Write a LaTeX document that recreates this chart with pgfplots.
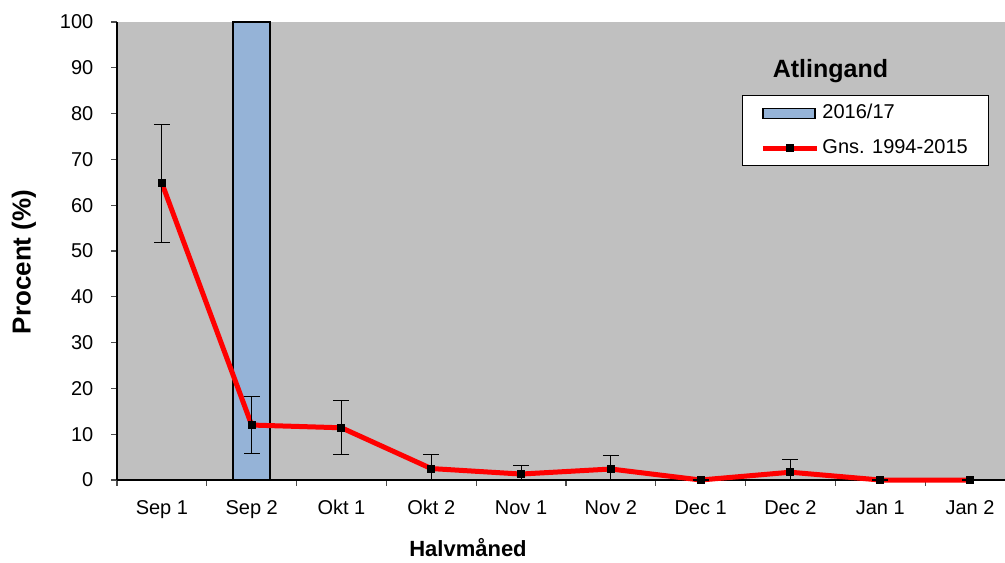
\documentclass[border=0pt]{standalone}
\usepackage{fontspec}
\setmainfont{Liberation Sans}
\usepackage{pgfplots}
\pgfplotsset{compat=1.18}
\definecolor{plotbg}{HTML}{C0C0C0}
\definecolor{barblue}{HTML}{95B3D7}
\pgfplotsset{
    linelegend/.style={legend image code/.code={%
        \draw[mark repeat=2, mark phase=2, ##1] plot coordinates {(0pt,0pt) (13.5pt,0pt) (27pt,0pt)};}},
    barlegend/.style={legend image code/.code={%
        \draw[fill=barblue, draw=black, line width=0.6pt] (0pt,-2.5pt) rectangle (26pt,2.5pt);}},
}
\begin{document}
\begin{tikzpicture}
\useasboundingbox (-58.5pt,-41pt) rectangle (444pt,240pt);
\begin{axis}[
    at={(0pt,0pt)}, anchor=south west,
    scale only axis, width=444pt, height=229pt,
    xmin=-0.5, xmax=9.39, ymin=0, ymax=100,
    axis background/.style={fill=plotbg},
    axis x line*=bottom, axis y line*=left,
    axis line style={black, line width=0.6pt},
    clip=false,
    xtick={0,...,9},
    xticklabels={Sep 1,Sep 2,Okt 1,Okt 2,Nov 1,Nov 2,Dec 1,Dec 2,Jan 1,Jan 2},
    minor xtick={-0.5,0.5,...,8.5},
    major x tick style={draw=none},
    minor tick length=2.8pt,
    ytick={0,10,...,100},
    major tick length=2.8pt,
    tick align=outside,
    tick style={black!70, line width=0.6pt},
    /pgf/number format/assume math mode=true,
    ticklabel style={font=\fontsize{10}{12}\selectfont},
    xticklabel style={yshift=-2.5pt, text height=1.6ex, text depth=0.4ex},
    yticklabel style={xshift=-5.5pt},
    legend style={at={(0.7038,0.8406)}, anchor=north west, draw=black, line width=0.5pt,
        fill=white, font=\fontsize{10}{12}\selectfont, row sep=6pt,
        inner xsep=9pt, inner ysep=3pt, nodes={inner sep=1.5pt}},
    legend cell align=left,
]
\addplot[ybar, bar width=18.25pt, fill=barblue, draw=black, line width=1pt, barlegend]
    coordinates {(1,100)};
\addlegendentry{2016/17}
\addplot[red, line width=2.5pt, mark=square*, mark size=1.75pt,
    mark options={black, fill=black, line width=0pt}, linelegend,
    error bars/.cd, y dir=both, y explicit,
    error bar style={black, line width=0.5pt}, error mark options={rotate=90, mark size=4pt, black, line width=0.6pt}]
    coordinates {
    (0,64.8) +- (0,12.9)
    (1,12.0) +- (0,6.2)
    (2,11.4) +- (0,5.9)
    (3,2.5) += (0,3.0) -= (0,2.5)
    (4,1.3) += (0,1.8) -= (0,1.3)
    (5,2.4) += (0,2.9) -= (0,2.4)
    (6,0) += (0,0) -= (0,0)
    (7,1.7) += (0,2.8) -= (0,1.7)
    (8,0) += (0,0) -= (0,0)
    (9,0) += (0,0) -= (0,0)
    };
\addlegendentry{Gns. 1994-2015}
\end{axis}
\node[font=\bfseries\fontsize{12.5}{14}\selectfont] at (356.7pt,204.5pt) {Atlingand};
\node[font=\bfseries\fontsize{11}{13}\selectfont] at (175.5pt,-34pt) {Halvmåned};
\node[font=\bfseries\fontsize{13}{15}\selectfont, rotate=90] at (-46.5pt,109pt) {Procent (\%)};
\end{tikzpicture}
\end{document}
